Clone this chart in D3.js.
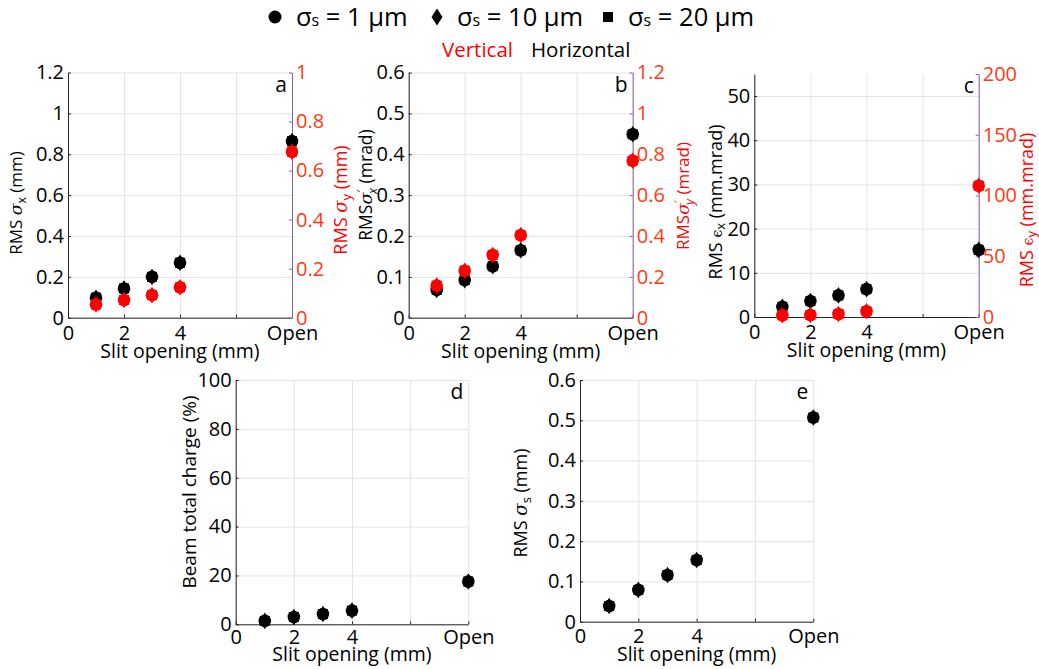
<!DOCTYPE html>
<html><head><meta charset="utf-8">
<script src="https://cdn.jsdelivr.net/npm/d3@7"></script>
<style>
body{margin:0;background:#fff;}
svg{display:block;font-family:"Open Sans",sans-serif;}
</style></head>
<body><svg id="c" width="1039" height="669"></svg>
<script>
// ---------- data ----------
const slitValues = [1, 2, 3, 4, 8];            // "Open" plotted at 8
const xTickValues = [0, 2, 4, 6, 8];
const xTickLabels = ["0", "2", "4", "", "Open"];
const seriesNames = ["σs = 1 µm", "σs = 10 µm", "σs = 20 µm"];

const sigmaXH = [0.098, 0.143, 0.200, 0.269, 0.864];
const sigmaYV = [0.054, 0.072, 0.092, 0.124, 0.677];
const divXH   = [0.068, 0.092, 0.126, 0.165, 0.449];
const divYV   = [0.157, 0.230, 0.307, 0.404, 0.768];
const emitXH  = [2.3, 3.6, 4.9, 6.3, 15.2];
const emitYV  = [1.4, 1.6, 2.5, 4.7, 108];
const charge  = [1.4, 3.0, 4.2, 5.6, 17.5];
const sigmaS  = [0.039, 0.079, 0.116, 0.153, 0.507];

const ticksA_L = [0, 0.2, 0.4, 0.6, 0.8, 1, 1.2];
const ticksA_R = [0, 0.2, 0.4, 0.6, 0.8, 1];
const ticksB_L = [0, 0.1, 0.2, 0.3, 0.4, 0.5, 0.6];
const ticksB_R = [0, 0.2, 0.4, 0.6, 0.8, 1, 1.2];
const ticksC_L = [0, 10, 20, 30, 40, 50];
const ticksC_R = [0, 50, 100, 150, 200];
const ticksD   = [0, 20, 40, 60, 80, 100];
const ticksE   = [0, 0.1, 0.2, 0.3, 0.4, 0.5, 0.6];

// ---------- style ----------
const BLACK = "#000", RED = "#ff0000", RTICK = "#ff3a12", PURPLE = "#8e5ba6", GRID = "#e3e3e3", AXIS = "#262626";
const TICKFS = 20, LABFS = 19.5;

const svg = d3.select("#c");

function drawMarkers(g, x, y, vals, color) {
  const pts = slitValues.map((s, i) => ({ s, v: vals[i] }));
  g.selectAll(null).data(pts).enter().append("path")
    .attr("d", d3.symbol().type(d3.symbolSquare).size(100)())
    .attr("transform", d => `translate(${x(d.s)},${y(d.v)})`).attr("fill", color);
  g.selectAll(null).data(pts).enter().append("circle")
    .attr("cx", d => x(d.s)).attr("cy", d => y(d.v)).attr("r", 6.3).attr("fill", color);
  g.selectAll(null).data(pts).enter().append("path")
    .attr("d", "M0,-8.3L5.3,0L0,8.3L-5.3,0Z")
    .attr("transform", d => `translate(${x(d.s)},${y(d.v)})`).attr("fill", color);
}

function fmt(d){ return String(+d.toFixed(3)); }

function panel(cfg) {
  const g = svg.append("g");
  const x = d3.scaleLinear().domain([0, 8]).range([cfg.x0, cfg.x1]);
  const y = d3.scaleLinear().domain(cfg.yDom).range([cfg.yB, cfg.yT]);
  const h = cfg.yB - cfg.yT;
  g.append("g").attr("transform", `translate(0,${cfg.yB})`)
    .call(d3.axisBottom(x).tickValues(xTickValues).tickSize(-h).tickFormat(""))
    .call(s => { s.select(".domain").remove(); s.selectAll("line").attr("stroke", GRID).attr("stroke-width", 1); });
  g.append("g").attr("transform", `translate(${cfg.x0},0)`)
    .call(d3.axisLeft(y).tickValues(cfg.yTicks).tickSize(-(cfg.x1 - cfg.x0)).tickFormat(""))
    .call(s => { s.select(".domain").remove(); s.selectAll("line").attr("stroke", GRID).attr("stroke-width", 1); });

  const xa = g.append("g").attr("transform", `translate(0,${cfg.yB})`)
    .call(d3.axisBottom(x).tickValues(xTickValues).tickSizeInner(-3).tickSizeOuter(0).tickPadding(cfg.xPad)
      .tickFormat((d, i) => xTickLabels[i]));
  xa.selectAll("text").attr("font-size", TICKFS).attr("fill", BLACK).attr("font-family", "Open Sans");
  xa.selectAll("line,path").attr("stroke", AXIS);

  const ya = g.append("g").attr("transform", `translate(${cfg.x0},0)`)
    .call(d3.axisLeft(y).tickValues(cfg.yTicks).tickSizeInner(-3).tickSizeOuter(0).tickPadding(4).tickFormat(fmt));
  ya.selectAll("text").attr("font-size", TICKFS).attr("fill", BLACK).attr("font-family", "Open Sans");
  ya.selectAll("line,path").attr("stroke", AXIS);

  let yr = null;
  if (cfg.rDom) {
    yr = d3.scaleLinear().domain(cfg.rDom).range([cfg.yB, cfg.yT]);
    const ra = g.append("g").attr("transform", `translate(${cfg.x1},0)`)
      .call(d3.axisRight(yr).tickValues(cfg.rTicks).tickSizeInner(-3).tickSizeOuter(0).tickPadding(4).tickFormat(fmt));
    ra.selectAll("text").attr("font-size", TICKFS).attr("fill", RTICK).attr("font-family", "Open Sans");
    ra.selectAll("line,path").attr("stroke", PURPLE);
  }

  g.append("text").attr("x", (cfg.x0 + cfg.x1) / 2).attr("y", cfg.yB + cfg.xLabDy)
    .attr("text-anchor", "middle").attr("font-size", LABFS).text("Slit opening (mm)");

  const tl = g.append("text").attr("transform", `translate(${cfg.yLabX},${cfg.yLabY}) rotate(-90)`)
    .attr("text-anchor", "middle").attr("font-size", cfg.yLabFs).attr("fill", BLACK);
  cfg.yLab(tl);
  if (cfg.rLab) {
    const tr = g.append("text").attr("transform", `translate(${cfg.rLabX},${cfg.rLabY}) rotate(-90)`)
      .attr("text-anchor", "middle").attr("font-size", cfg.rLabFs).attr("fill", RED);
    cfg.rLab(tr);
  }
  g.append("text").attr("x", cfg.x1 - 5).attr("y", cfg.yT + 19).attr("text-anchor", "end")
    .attr("font-size", 21).text(cfg.letter);

  const mg = g.append("g");
  drawMarkers(mg, x, y, cfg.left, BLACK);
  if (cfg.right) drawMarkers(mg, x, yr, cfg.right, RED);
}

function sigmaLab(sub, unit, gap){
  return t => {
    t.append("tspan").text("RMS ");
    t.append("tspan").attr("font-style", "italic").attr("font-family", "DejaVu Serif").text("σ");
    t.append("tspan").attr("font-size", "0.72em").attr("dy", 4).text(sub);
    t.append("tspan").attr("dy", -4).text(gap + unit);
  };
}
function primeLab(sub){
  return t => {
    t.append("tspan").text("RMS");
    t.append("tspan").attr("font-style", "italic").attr("font-family", "DejaVu Serif").text("σ");
    t.append("tspan").attr("font-size", "0.66em").attr("dy", -7).text("′");
    t.append("tspan").attr("font-size", "0.72em").attr("font-style", "italic").attr("dx", -4).attr("dy", 12).text(sub);
    t.append("tspan").attr("dy", -5).text(" (mrad)");
  };
}
function epsLab(sub){
  return t => {
    t.append("tspan").text("RMS ");
    t.append("tspan").attr("font-size", "0.78em").attr("font-family", "DejaVu Serif").text("ϵ");
    t.append("tspan").attr("font-size", "0.72em").attr("dy", 3).text(sub);
    t.append("tspan").attr("dy", -3).text(" (mm.mrad)");
  };
}

panel({ x0: 68, x1: 292, yT: 72.5, yB: 317.7, yDom: [0, 1.2], yTicks: ticksA_L, rDom: [0, 1], rTicks: ticksA_R,
  left: sigmaXH, right: sigmaYV, letter: "a", xPad: 8, xLabDy: 40,
  yLabX: 22, yLabY: 203, yLabFs: 17, yLab: sigmaLab("x", "(mm)", " "),
  rLabX: 347, rLabY: 200, rLabFs: 18, rLab: sigmaLab("y", "(mm)", "  ") });
panel({ x0: 408.7, x1: 632.7, yT: 72.5, yB: 317.7, yDom: [0, 0.6], yTicks: ticksB_L, rDom: [0, 1.2], rTicks: ticksB_R,
  left: divXH, right: divYV, letter: "b", xPad: 8, xLabDy: 40,
  yLabX: 372, yLabY: 185, yLabFs: 17.5, yLab: primeLab("x"),
  rLabX: 689, rLabY: 196, rLabFs: 17, rLab: primeLab("y") });
panel({ x0: 754.3, x1: 978.7, yT: 74, yB: 317, yDom: [0, 55], yTicks: ticksC_L, rDom: [0, 200], rTicks: ticksC_R,
  left: emitXH, right: emitYV, letter: "c", xPad: 8, xLabDy: 40,
  yLabX: 722, yLabY: 202, yLabFs: 18, yLab: epsLab("x"),
  rLabX: 1033, rLabY: 210, rLabFs: 18, rLab: epsLab("y") });
panel({ x0: 235.7, x1: 468.3, yT: 380, yB: 624.3, yDom: [0, 100], yTicks: ticksD,
  left: charge, letter: "d", xPad: 5, xLabDy: 37,
  yLabX: 196, yLabY: 492, yLabFs: 19, yLab: t => t.text("Beam total charge (%)") });
panel({ x0: 580, x1: 813.3, yT: 380, yB: 621.7, yDom: [0, 0.6], yTicks: ticksE,
  left: sigmaS, letter: "e", xPad: 7, xLabDy: 39,
  yLabX: 527, yLabY: 503, yLabFs: 18, yLab: sigmaLab("s", "(mm)", "  ") });

// ---------- legend ----------
const leg = svg.append("g").attr("font-size", 25.5);
const legItems = [
  { sym: "circle", sx: 275, tx: 296 },
  { sym: "diamond", sx: 437, tx: 457 },
  { sym: "square", sx: 608, tx: 628 }
];
legItems.forEach((it, i) => {
  if (it.sym === "circle") leg.append("circle").attr("cx", it.sx).attr("cy", 17).attr("r", 6.5).attr("fill", BLACK);
  if (it.sym === "diamond") leg.append("path").attr("d", "M0,-8.5L5.5,0L0,8.5L-5.5,0Z").attr("transform", `translate(${it.sx},17)`).attr("fill", BLACK);
  if (it.sym === "square") leg.append("rect").attr("x", it.sx - 5).attr("y", 12).attr("width", 10).attr("height", 10).attr("fill", BLACK);
  const name = seriesNames[i];
  const t = leg.append("text").attr("x", it.tx).attr("y", 26);
  t.append("tspan").text(name[0]);
  t.append("tspan").attr("font-size", 16).text(name[1]);
  t.append("tspan").text(name.slice(2));
});
svg.append("text").attr("x", 442).attr("y", 57).attr("font-size", 20.5).attr("fill", RED).text("Vertical");
svg.append("text").attr("x", 531).attr("y", 57).attr("font-size", 20.5).attr("fill", BLACK).text("Horizontal");
</script></body></html>
